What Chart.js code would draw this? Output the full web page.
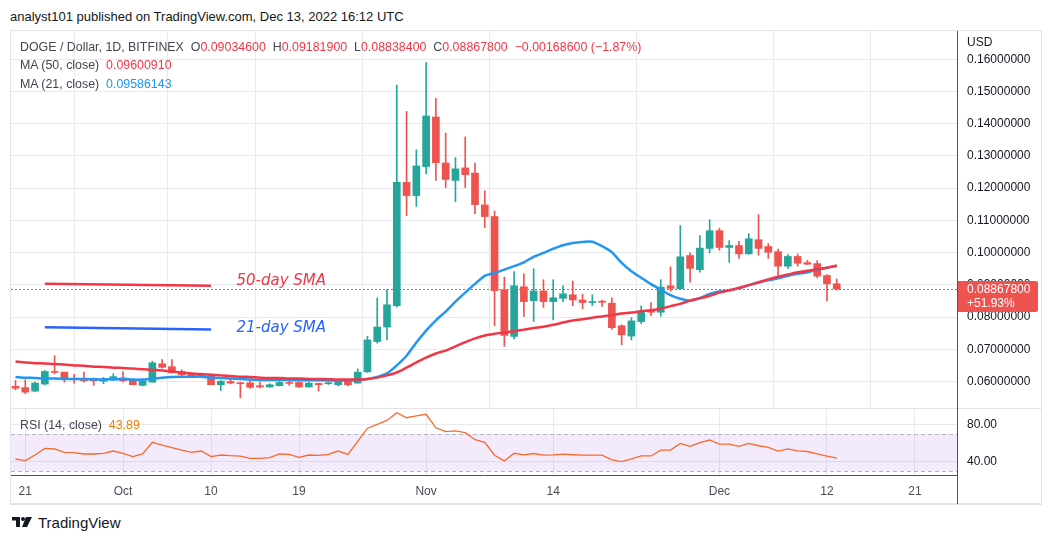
<!DOCTYPE html>
<html>
<head>
<meta charset="utf-8">
<script src="https://cdn.jsdelivr.net/npm/chart.js@4.4.0/dist/chart.umd.min.js"></script>
<style>
  html, body { margin: 0; padding: 0; background: #fff; }
  body { width: 1053px; height: 542px; position: relative; overflow: hidden;
         font-family: "Liberation Sans", Arial, sans-serif; color: #131722; }
  .abs { position: absolute; white-space: nowrap; }
  .leg { font-size: 12.4px; color: #434651; }
  .r { color: #f23645; }
  .b { color: #2196f3; }
  .o { color: #f57c00; }
  canvas { position: absolute; }
  .line { position: absolute; }
</style>
</head>
<body>

<div class="abs" style="left:10px;top:9px;font-size:13px;color:#131722">analyst101 published on TradingView.com, Dec 13, 2022 16:12 UTC</div>

<!-- frame -->
<div class="line" style="left:10px;top:30px;width:1031px;height:1px;background:#e0e3eb"></div>
<div class="line" style="left:10px;top:30px;width:1px;height:474px;background:#e0e3eb"></div>
<div class="line" style="left:1041px;top:30px;width:1px;height:474px;background:#e0e3eb"></div>
<div class="line" style="left:10px;top:503px;width:1032px;height:2px;background:#e0e3eb"></div>

<canvas id="price" width="1030" height="377" style="left:11px;top:31px"></canvas>
<canvas id="rsi" width="1030" height="96" style="left:11px;top:408px"></canvas>

<!-- pane separator and price-scale border -->
<div class="line" style="left:11px;top:408px;width:1030px;height:1px;background:#e0e3eb"></div>
<div class="line" style="left:957px;top:31px;width:1px;height:473px;background:#50535e"></div>

<div class="abs leg" style="left:20px;top:40px">DOGE / Dollar, 1D, BITFINEX&nbsp; O<span class="r">0.09034600</span>&nbsp; H<span class="r">0.09181900</span>&nbsp; L<span class="r">0.08838400</span>&nbsp; C<span class="r">0.08867800</span>&nbsp; <span class="r">−0.00168600 (−1.87%)</span></div>
<div class="abs leg" style="left:20px;top:58px">MA (50, close)&nbsp; <span class="r">0.09600910</span></div>
<div class="abs leg" style="left:20px;top:77px">MA (21, close)&nbsp; <span class="b">0.09586143</span></div>
<div class="abs leg" style="left:20px;top:418px">RSI (14, close)&nbsp; <span class="o">43.89</span></div>

<div class="abs" style="left:12px;top:515px">
  <svg width="22" height="14" viewBox="0 0 22 14">
    <rect x="0" y="2" width="8" height="3.5" fill="#131722"/>
    <rect x="4" y="2" width="4" height="10" fill="#131722"/>
    <circle cx="11" cy="4" r="2" fill="#131722"/>
    <polygon points="14,2 20,2 15,12 10,12" fill="#131722"/>
  </svg>
</div>
<div class="abs" style="left:38px;top:514px;font-size:15px;color:#131722">TradingView</div>

<script>
// ---- data (index 0 = Sep 20, 2022, one candle per day) ----
const days = ['Sep 20','Sep 21','Sep 22','Sep 23','Sep 24','Sep 25','Sep 26','Sep 27','Sep 28','Sep 29','Sep 30',
  'Oct 1','Oct 2','Oct 3','Oct 4','Oct 5','Oct 6','Oct 7','Oct 8','Oct 9','Oct 10','Oct 11','Oct 12','Oct 13','Oct 14',
  'Oct 15','Oct 16','Oct 17','Oct 18','Oct 19','Oct 20','Oct 21','Oct 22','Oct 23','Oct 24','Oct 25','Oct 26','Oct 27',
  'Oct 28','Oct 29','Oct 30','Oct 31','Nov 1','Nov 2','Nov 3','Nov 4','Nov 5','Nov 6','Nov 7','Nov 8','Nov 9','Nov 10',
  'Nov 11','Nov 12','Nov 13','Nov 14','Nov 15','Nov 16','Nov 17','Nov 18','Nov 19','Nov 20','Nov 21','Nov 22','Nov 23',
  'Nov 24','Nov 25','Nov 26','Nov 27','Nov 28','Nov 29','Nov 30','Dec 1','Dec 2','Dec 3','Dec 4','Dec 5','Dec 6','Dec 7',
  'Dec 8','Dec 9','Dec 10','Dec 11','Dec 12','Dec 13'];

const opens = [.0585,.0581,.0570,.0592,.0631,.0629,.0610,.0610,.0606,.0601,.0605,
  .0611,.0604,.0588,.0598,.0655,.0646,.0631,.0623,.0614,.0621,.0590,.0600,.0596,.0596,
  .0587,.0583,.0587,.0596,.0597,.0583,.0594,.0593,.0590,.0603,.0595,.0630,.0724,
  .0769,.0835,.1218,.1177,.1267,.1421,.1278,.1224,.1263,.1247,.1148,.1112,.0885,.0740,
  .0894,.0851,.0881,.0848,.0858,.0869,.0853,.0845,.0848,.0843,.0773,.0741,.0786,
  .0822,.0815,.0897,.0888,.0991,.0947,.1013,.1068,.1016,.1022,.0996,.1040,.1019,.1003,
  .0958,.0988,.0969,.0966,.0929,.090346];
const highs = [.0603,.0605,.0598,.0634,.0680,.0629,.0622,.0629,.0611,.0613,.0624,
  .0631,.0606,.0603,.0663,.0668,.0668,.0636,.0626,.0624,.0624,.0603,.0608,.0598,.0605,
  .0598,.0593,.0600,.0603,.0598,.0598,.0595,.0598,.0603,.0605,.0639,.0740,.0859,
  .0886,.1520,.1438,.1319,.1590,.1479,.1371,.1295,.1359,.1278,.1192,.1129,.0924,.0941,
  .0934,.0950,.0916,.0916,.0897,.0912,.0871,.0869,.0853,.0860,.0776,.0798,.0835,
  .0845,.0916,.0956,.1084,.0999,.1053,.1102,.1076,.1037,.1035,.1059,.1118,.1028,.1011,
  .0994,.0996,.0976,.0975,.0932,.091819];
const lows = [.0574,.0562,.0569,.0590,.0624,.0598,.0595,.0598,.0588,.0593,.0603,
  .0598,.0590,.0586,.0598,.0641,.0627,.0617,.0613,.0613,.0590,.0572,.0593,.0549,.0579,
  .0580,.0582,.0586,.0588,.0582,.0582,.0570,.0591,.0586,.0586,.0595,.0628,.0719,
  .0729,.0831,.1115,.1143,.1244,.1224,.1202,.1158,.1202,.1121,.1078,.0773,.0709,.0732,
  .0802,.0786,.0830,.0791,.0848,.0835,.0826,.0836,.0833,.0762,.0714,.0729,.0779,
  .0804,.0803,.0880,.0888,.0908,.0939,.0999,.1007,.0970,.0982,.0995,.0992,.0982,.0929,
  .0951,.0958,.0963,.0922,.0850,.088384];
const closes = [.0579,.0567,.0595,.0631,.0628,.0608,.0606,.0602,.0602,.0608,.0615,
  .0602,.0590,.0602,.0658,.0644,.0627,.0621,.0614,.0621,.0590,.0601,.0595,.0593,.0582,
  .0583,.0590,.0597,.0594,.0583,.0595,.0590,.0596,.0602,.0590,.0629,.0729,.0769,
  .0838,.1218,.1177,.1269,.1424,.1279,.1227,.1260,.1242,.1149,.1112,.0882,.0743,.0897,
  .0848,.0881,.0848,.0860,.0872,.0853,.0845,.0847,.0846,.0767,.0745,.0788,.0819,
  .0815,.0893,.0889,.0987,.0951,.1014,.1068,.1016,.1022,.0996,.1043,.1013,.1001,.0958,
  .0988,.0967,.0964,.0927,.0903,.088678];

const ma50 = [.0662,.0659,.0657,.0656,.0654,.0653,.0650,.0649,.0646,.0645,.0643,
  .0642,.0640,.0638,.0636,.0634,.0631,.0628,.0625,.0623,.0621,.0619,.0617,.0615,.0614,
  .0612,.0611,.0611,.0609,.0609,.0608,.0608,.0607,.0606,.0606,.0606,.0608,.0612,
  .0619,.0628,.0643,.0659,.0674,.0687,.0696,.0709,.0722,.0734,.0743,.0748,.0752,.0756,
  .0761,.0766,.0770,.0776,.0783,.0789,.0793,.0798,.0802,.0806,.0811,.0814,.0818,
  .0821,.0826,.0834,.0841,.0851,.0858,.0866,.0876,.0883,.0891,.0899,.0908,.0917,.0925,
  .0932,.0939,.0944,.0948,.0953,.0960091];
const ma21 = [.0614,.0612,.0611,.0609,.0609,.0608,.0608,.0608,.0607,.0606,.0607,
  .0608,.0606,.0606,.0609,.0612,.0614,.0615,.0615,.0615,.0612,.0611,.0609,.0608,.0606,
  .0605,.0605,.0605,.0605,.0604,.0604,.0604,.0603,.0603,.0603,.0605,.0608,.0614,
  .0625,.0650,.0680,.0721,.0758,.0790,.0817,.0848,.0876,.0903,.0928,.0937,.0947,.0958,
  .0970,.0987,.0999,.1012,.1023,.1030,.1033,.1034,.1020,.1001,.0968,.0942,.0922,
  .0902,.0885,.0868,.0857,.0851,.0859,.0872,.0879,.0883,.0889,.0899,.0907,.0914,.0920,
  .0928,.0934,.0939,.0947,.0953,.09586143];

const rsi14 = [43,41.2,47.3,54.5,53.8,50.2,49.8,48.4,48.4,49.1,51.6,
  49.1,45.5,48.4,61,58.1,55.2,52.7,50.2,51.6,45.5,47.3,46.6,46.2,43.7,
  43.7,44.4,48.4,48,44.8,47.3,46.9,48,51.6,48,62,76.3,80.5,
  84.7,93,87.6,89.5,91.3,76.7,72.6,73.4,71.5,63.8,60.9,47.1,40.9,49.2,
  47.4,48.9,47.1,47.5,48.2,47.6,47.1,47.1,47.1,42,40.2,43.2,46.3,
  46.3,52.6,52.6,59.8,56.6,60.6,63.5,59.1,59.1,56.6,59.8,57.3,55.5,51.5,
  54,51.8,51.1,48.5,46,43.89];

const priceTicks = [0.06, 0.07, 0.08, 0.09, 0.10, 0.11, 0.12, 0.13, 0.14, 0.15, 0.16];
const rsiTicks = [40, 80];
const rsiBand = [30, 70];
const timeTickDays = [1, 11, 20, 29, 42, 55, 72, 83, 92];
const timeTickLabels = ['21', 'Oct', '10', '19', 'Nov', '14', 'Dec', '12', '21'];

// hand drawn notes on the chart: [from day, price], [to day, price], label position
const notes = [
  { text: '50-day SMA', color: '#f23645', from: [3.0, 0.0903], to: [20.0, 0.0897], at: [22.6, 0.0912] },
  { text: '21-day SMA', color: '#2962ff', from: [3.0, 0.0768], to: [20.0, 0.0761], at: [22.6, 0.0767] }
];
const changePct = '+51.93%';

// ---- styling ----
const UP = '#26a69a', DOWN = '#ef5350';
const GRID = '#e6ebf2';
const X_MIN = -0.46, X_MAX = 96.3;
const candleColors = closes.map((c, i) => c >= opens[i] ? UP : DOWN);

// drop the padding chart.js keeps for the end tick labels
const noPad = w => s => { s.width = w; s.paddingTop = 0; s.paddingBottom = 0; };

const timeGrid = {
  type: 'linear', min: X_MIN, max: X_MAX, offset: false,
  grid: { color: GRID, drawTicks: false },
  border: { display: false },
  afterBuildTicks: s => { s.ticks = timeTickDays.map(v => ({ value: v })); }
};

const pricePlugin = {
  id: 'priceExtras',
  afterDatasetsDraw(chart) {
    const { ctx, chartArea, scales } = chart;
    const x = scales.x, y = scales.y;
    ctx.save();
    // hand drawn notes
    notes.forEach(n => {
      ctx.strokeStyle = n.color;
      ctx.lineWidth = 2.5;
      ctx.beginPath();
      ctx.moveTo(x.getPixelForValue(n.from[0]), y.getPixelForValue(n.from[1]));
      ctx.lineTo(x.getPixelForValue(n.to[0]), y.getPixelForValue(n.to[1]));
      ctx.stroke();
      ctx.fillStyle = n.color;
      ctx.font = 'italic 15px "DejaVu Sans", sans-serif';
      ctx.textBaseline = 'middle';
      ctx.fillText(n.text, x.getPixelForValue(n.at[0]), y.getPixelForValue(n.at[1]));
    });
    // last price dotted line
    const last = closes[closes.length - 1];
    const py = Math.round(y.getPixelForValue(last)) + 0.5;
    ctx.strokeStyle = DOWN;
    ctx.lineWidth = 1;
    ctx.setLineDash([2, 2]);
    ctx.beginPath();
    ctx.moveTo(chartArea.left, py);
    ctx.lineTo(chartArea.right, py);
    ctx.stroke();
    ctx.restore();
  },
  afterDraw(chart) {
    const { ctx, chartArea, scales } = chart;
    const y = scales.y;
    ctx.save();
    // currency label at top of scale
    ctx.fillStyle = '#fff';
    ctx.fillRect(chartArea.right + 1, 0, 90, 22);
    ctx.fillStyle = '#131722';
    ctx.font = '12px "Liberation Sans", Arial, sans-serif';
    ctx.textBaseline = 'middle';
    ctx.fillText('USD', chartArea.right + 10, 12);
    // last price box
    const last = closes[closes.length - 1];
    const py = Math.round(y.getPixelForValue(last));
    const bx = chartArea.right + 1;
    ctx.fillStyle = DOWN;
    ctx.beginPath();
    ctx.roundRect(bx, py - 8, 80, 31, [0, 2, 2, 0]);
    ctx.fill();
    ctx.fillStyle = '#fff';
    ctx.fillText(last.toFixed(8), chartArea.right + 10, py + 1);
    ctx.fillText(changePct, chartArea.right + 10, py + 15);
    ctx.restore();
  }
};

new Chart(document.getElementById('price'), {
  type: 'bar',
  data: {
    datasets: [
      { type: 'line', label: 'MA (50, close)', data: ma50.map((v, i) => ({ x: i, y: v })),
        borderColor: '#f23645', borderWidth: 2.5, pointRadius: 0, tension: 0.25, order: 0 },
      { type: 'line', label: 'MA (21, close)', data: ma21.map((v, i) => ({ x: i, y: v })),
        borderColor: '#2196f3', borderWidth: 2.5, pointRadius: 0, tension: 0.25, order: 0 },
      { label: 'wick', data: days.map((d, i) => ({ x: i, y: [lows[i], highs[i]] })),
        backgroundColor: candleColors, barThickness: 1, grouped: false, order: 2 },
      { label: 'body', data: days.map((d, i) => ({ x: i, y: [opens[i], closes[i]] })),
        backgroundColor: candleColors, barThickness: 7, grouped: false, minBarLength: 1, order: 1 }
    ]
  },
  options: {
    responsive: false, animation: false, devicePixelRatio: 1,
    layout: { padding: 0 },
    plugins: { legend: { display: false }, tooltip: { enabled: false } },
    scales: {
      x: Object.assign({}, timeGrid, { ticks: { display: false },
        afterFit: s => { s.height = 0; s.paddingLeft = 0; s.paddingRight = 0; } }),
      y: {
        position: 'right', min: 0.051775, max: 0.16878,
        grid: { color: GRID, drawTicks: false },
        border: { display: false },
        afterBuildTicks: s => { s.ticks = priceTicks.map(v => ({ value: v })); },
        ticks: { padding: 10, color: '#131722', font: { family: '"Liberation Sans", Arial, sans-serif', size: 12 },
                 callback: v => v.toFixed(8) },
        afterFit: noPad(84)
      }
    }
  },
  plugins: [pricePlugin]
});

const rsiPlugin = {
  id: 'rsiBand',
  beforeDatasetsDraw(chart) {
    const { ctx, chartArea, scales } = chart;
    const y = scales.y;
    const top = y.getPixelForValue(rsiBand[1]), bot = y.getPixelForValue(rsiBand[0]);
    ctx.save();
    ctx.fillStyle = 'rgba(149, 60, 220, 0.11)';
    ctx.fillRect(chartArea.left, top, chartArea.right - chartArea.left, bot - top);
    ctx.strokeStyle = '#b2b5be';
    ctx.lineWidth = 1;
    ctx.setLineDash([4, 3]);
    [top, bot].forEach(p => {
      ctx.beginPath();
      ctx.moveTo(chartArea.left, Math.round(p) + 0.5);
      ctx.lineTo(chartArea.right, Math.round(p) + 0.5);
      ctx.stroke();
    });
    ctx.restore();
  }
};

new Chart(document.getElementById('rsi'), {
  type: 'line',
  data: {
    datasets: [
      { label: 'RSI (14, close)', data: rsi14.map((v, i) => ({ x: i, y: v })),
        borderColor: '#fb6a2a', borderWidth: 1.3, pointRadius: 0 }
    ]
  },
  options: {
    responsive: false, animation: false, devicePixelRatio: 1,
    layout: { padding: 0 },
    plugins: { legend: { display: false }, tooltip: { enabled: false } },
    scales: {
      x: Object.assign({}, timeGrid, {
        border: { display: true, color: '#50535e', width: 1 },
        ticks: { padding: 9, color: '#4a4d57', autoSkip: false, maxRotation: 0,
                 font: { family: '"Liberation Sans", Arial, sans-serif', size: 12 },
                 callback: v => timeTickLabels[timeTickDays.indexOf(v)] },
        afterFit: s => { s.height = 29; s.paddingLeft = 0; s.paddingRight = 0; }
      }),
      y: {
        position: 'right', min: 25.7, max: 98.1,
        grid: { color: GRID, drawTicks: false },
        border: { display: false },
        afterBuildTicks: s => { s.ticks = rsiTicks.map(v => ({ value: v })); },
        ticks: { padding: 10, color: '#131722', font: { family: '"Liberation Sans", Arial, sans-serif', size: 12 },
                 callback: v => v.toFixed(2) },
        afterFit: noPad(84)
      }
    }
  },
  plugins: [rsiPlugin]
});
</script>
</body>
</html>
